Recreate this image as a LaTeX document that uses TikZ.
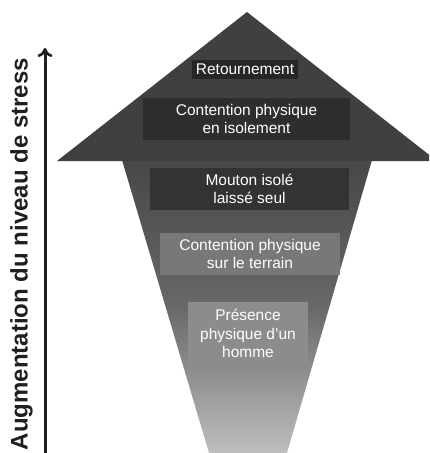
\documentclass[tikz,border=0pt]{standalone}
\usepackage{fontspec}
\setmainfont{Liberation Sans}
\usetikzlibrary{arrows.meta}
\definecolor{headgray}{HTML}{404040}
\definecolor{shafttop}{HTML}{474747}
\definecolor{shaftmid}{HTML}{686868}
\definecolor{shaftbot}{HTML}{BEBEBE}
\tikzset{
  box/.style={rectangle, inner sep=0pt, text=white, align=center,
    font=\fontsize{15.5}{18.5}\selectfont},
}
\begin{document}
\begin{tikzpicture}[x=1pt,y=-1pt]
\useasboundingbox (0,0) rectangle (429,453);
\clip (0,0) rectangle (429,453);
% shaft
\shade[top color=shafttop, bottom color=shaftbot, middle color=shaftmid]
  (122,160) -- (372,160) -- (287,453) -- (209,453) -- cycle;
% head
\fill[headgray] (247,12) -- (437,161) -- (57,161) -- cycle;
% boxes
\node[box, fill=black!85, minimum width=106pt, minimum height=19pt] (b1) at (245,69.5) {Retournement};
\node[box, fill=black!82, minimum width=207pt, minimum height=42pt] (b2) at (246.5,119) {Contention physique\\en isolement};
\node[box, fill=black!80, minimum width=199pt, minimum height=42pt] (b3) at (249.5,189) {Mouton isolé\\laissé seul};
\node[box, fill=black!53, minimum width=180pt, minimum height=42pt] (b4) at (250,254) {Contention physique\\sur le terrain};
\node[box, fill=black!45, minimum width=120pt, minimum height=63pt] (b5) at (248,333.5) {Présence\\physique d'un\\homme};
% side arrow
\coordinate (s0) at (45,455);
\coordinate (s1) at (45,48);
\draw[line width=3pt, black!88, -{To[length=9pt,width=15pt,line width=2.6pt]}] (s0) -- (s1);
\node[rotate=90, font=\bfseries\fontsize{24}{28}\selectfont, text=black!88, inner sep=0pt] (lab) at (21.5,254) {Augmentation du niveau de stress};
\end{tikzpicture}
\end{document}
